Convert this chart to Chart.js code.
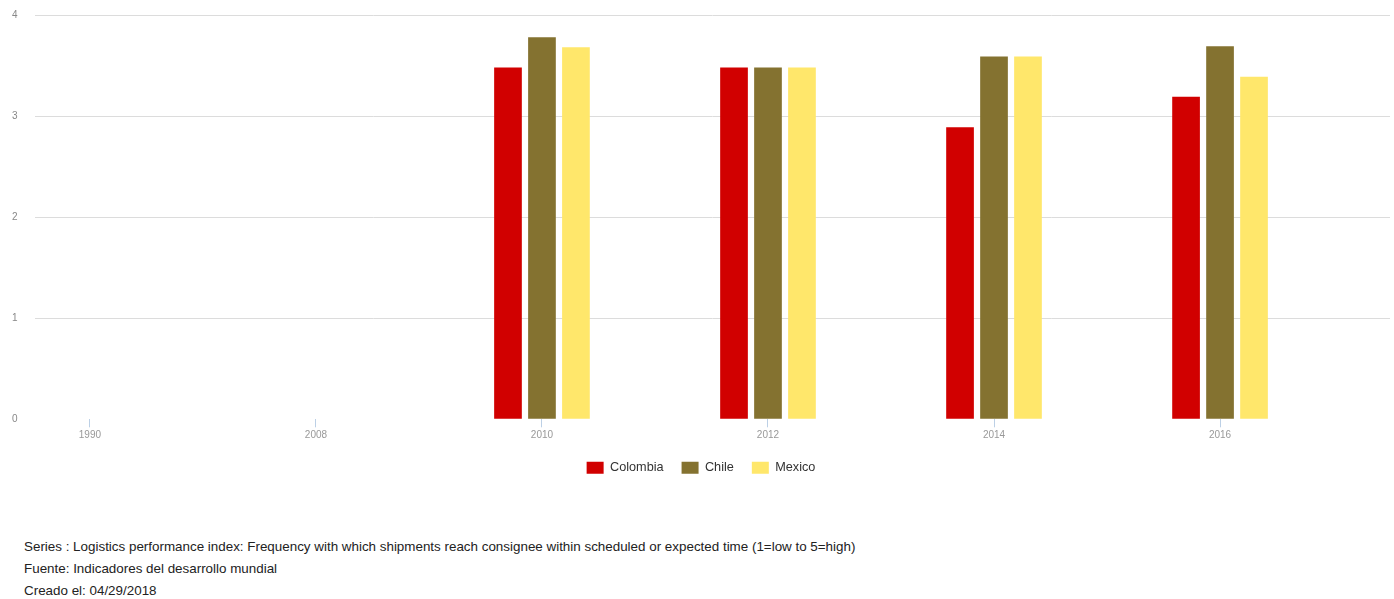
<!DOCTYPE html>
<html>
<head>
<meta charset="utf-8">
<script src="https://cdn.jsdelivr.net/npm/chart.js@4.4.1/dist/chart.umd.min.js"></script>
<style>
  html, body { margin: 0; padding: 0; background: #fff; }
  body { width: 1394px; height: 599px; position: relative; overflow: hidden; font-family: "Liberation Sans", Arial, sans-serif; }
  #caja { position: absolute; left: 0; top: 0; width: 1394px; height: 484px; }
  .nota { position: absolute; left: 24px; font-size: 13.4px; color: #222; }
</style>
</head>
<body>
<div id="caja"><canvas id="grafico"></canvas></div>
<div class="nota" style="top:539px">Series : Logistics performance index: Frequency with which shipments reach consignee within scheduled or expected time (1=low to 5=high)</div>
<div class="nota" style="top:561px">Fuente: Indicadores del desarrollo mundial</div>
<div class="nota" style="top:583px">Creado el: 04/29/2018</div>
<script>
const anios = ["1990", "2008", "2010", "2012", "2014", "2016"];
const colombia = [null, null, 3.48, 3.48, 2.89, 3.19];
const chile = [null, null, 3.78, 3.48, 3.59, 3.69];
const mexico = [null, null, 3.68, 3.48, 3.59, 3.39];

function puntos(valores) {
  let lista = [];
  for (let i = 0; i < valores.length; i++) {
    lista.push({ x: i, y: valores[i] });
  }
  return lista;
}

function serie(nombre, valores, color) {
  return {
    label: nombre,
    data: puntos(valores),
    backgroundColor: color,
    borderWidth: 0,
    categoryPercentage: 0.451,
    barPercentage: 0.815,
  };
}

new Chart(document.getElementById("grafico").getContext("2d"), {
  type: "bar",
  data: {
    datasets: [
      serie("Colombia", colombia, "#d10000"),
      serie("Chile", chile, "#847230"),
      serie("Mexico", mexico, "#ffe76b"),
    ],
  },
  options: {
    animation: false,
    responsive: true,
    maintainAspectRatio: false,
    layout: { padding: { top: 15, right: 4, left: 12, bottom: 0 } },
    plugins: {
      tooltip: { enabled: false },
      legend: {
        position: "bottom",
        labels: {
          boxWidth: 17,
          boxHeight: 12,
          padding: 18,
          color: "#333",
          font: { family: "Liberation Sans", size: 12.7 },
        },
      },
    },
    scales: {
      x: {
        type: "linear",
        offset: false,
        min: -0.243,
        max: 5.752,
        afterBuildTicks: (eje) => {
          eje.ticks = anios.map((a, i) => ({ value: i }));
        },
        ticks: {
          callback: (valor) => anios[valor],
          color: "#999",
          font: { family: "Liberation Sans", size: 10 },
          padding: 2,
          maxRotation: 0,
        },
        grid: {
          offset: false,
          drawOnChartArea: false,
          drawTicks: true,
          tickLength: 8,
          color: "#bcd0e6",
        },
        border: { display: false },
      },
      y: {
        min: 0,
        max: 4,
        afterFit: (eje) => { eje.width = 23; },
        ticks: {
          stepSize: 1,
          color: "#888",
          padding: 0,
          crossAlign: "far",
          font: { family: "Liberation Sans", size: 10 },
        },
        grid: {
          drawTicks: false,
          color: (ctx) => (ctx.tick && ctx.tick.value === 0 ? "rgba(0,0,0,0)" : "#dcdcdc"),
        },
        border: { display: false },
      },
    },
  },
});
</script>
</body>
</html>
